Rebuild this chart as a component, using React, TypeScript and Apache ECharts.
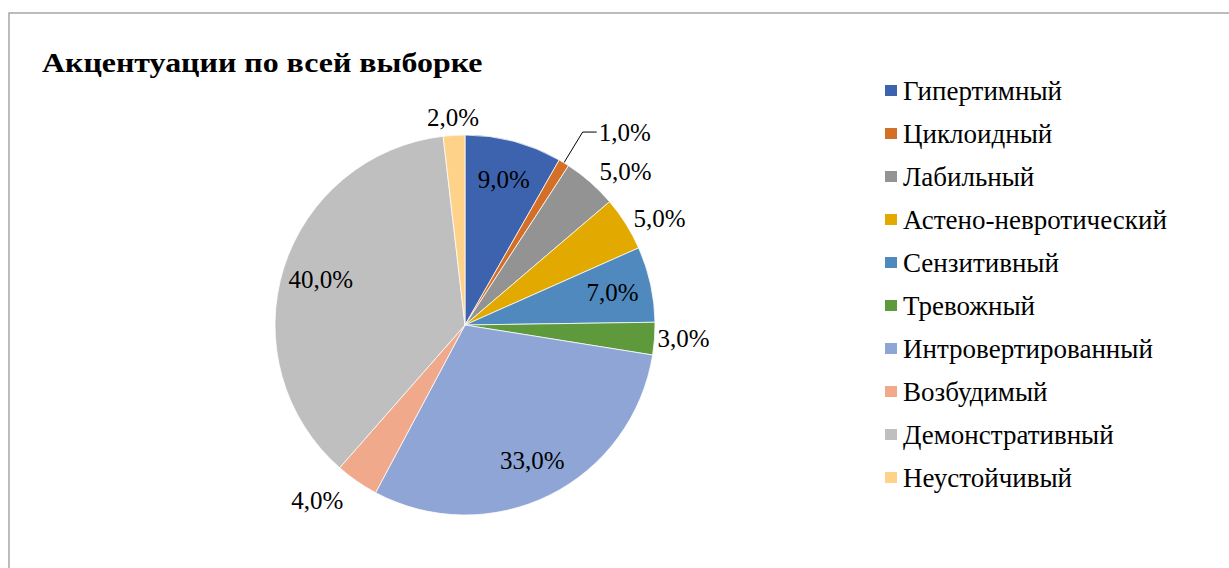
import React, { useEffect, useRef } from "react";
import * as echarts from "echarts";

const categories = [
  "Гипертимный",
  "Циклоидный",
  "Лабильный",
  "Астено-невротический",
  "Сензитивный",
  "Тревожный",
  "Интровертированный",
  "Возбудимый",
  "Демонстративный",
  "Неустойчивый",
];
const values = [9, 1, 5, 5, 7, 3, 33, 4, 40, 2];
const colors = [
  "#3D63AE",
  "#D46F27",
  "#939393",
  "#E2AA00",
  "#4F89BE",
  "#5E9A3C",
  "#8FA5D6",
  "#F0A98B",
  "#BFBFBF",
  "#FFD28A",
];
const titleText = "Акцентуации по всей выборке";

// label placement groups (by index)
const insideIdx = [0, 4, 6, 8];
const nearIdx = [9];
// outside labels: index -> [labelLine length, length2, show line]
const outsideCfg: Record<number, [number, number, boolean]> = {
  1: [36, 14, true],
  2: [14, 0, false],
  3: [9, 0, false],
  5: [3, 0, false],
  7: [24, 0, false],
};

const FONT = "Liberation Serif";
const fmt = (v: number) => v.toFixed(1).replace(".", ",") + "%";

export default function App() {
  const ref = useRef<HTMLDivElement>(null);
  useEffect(() => {
    if (!ref.current) return;
    const chart = echarts.init(ref.current, undefined, { renderer: "svg" });
    const cx = 465;
    const cy = 325;
    const R = 190;
    const labelStyle = {
      fontFamily: FONT,
      fontSize: 25,
      color: "#000",
    };
    const mainData = categories.map((name, i) => {
      const cfg = outsideCfg[i];
      return {
        name,
        value: values[i],
        itemStyle: { color: colors[i] },
        label: cfg
          ? {
              show: true,
              position: "outside",
              distanceToLabelLine: cfg[2] ? 2 : 0,
            }
          : { show: false },
        labelLine: cfg
          ? {
              show: cfg[2],
              length: cfg[0],
              length2: cfg[1],
              lineStyle: { color: "#000", width: 1 },
            }
          : { show: false },
      };
    });
    const ringData = (idxs: number[]) =>
      categories.map((name, i) => ({
        name,
        value: values[i],
        label: { show: idxs.includes(i) },
      }));
    const transparentSeries = (radius: number[], idxs: number[]) => ({
      type: "pie",
      center: [cx, cy],
      radius,
      startAngle: 90,
      clockwise: true,
      silent: true,
      avoidLabelOverlap: false,
      itemStyle: { color: "rgba(0,0,0,0)", borderWidth: 0 },
      label: {
        position: "inside",
        formatter: (p: any) => fmt(p.value),
        ...labelStyle,
      },
      labelLine: { show: false },
      emphasis: { disabled: true },
      data: ringData(idxs),
      z: 3,
    });

    chart.setOption({
      animation: false,
      backgroundColor: "#fff",
      textStyle: { fontFamily: FONT },
      legend: {
        orient: "vertical",
        left: 878,
        top: 72,
        itemWidth: 14,
        itemHeight: 13,
        itemGap: 16,
        icon: "rect",
        data: categories,
        selectedMode: false,
        textStyle: {
          fontFamily: FONT,
          fontSize: 27,
          lineHeight: 24,
          color: "#000",
        },
      },
      graphic: [
        {
          type: "rect",
          shape: { x: 9, y: 13, width: 1260, height: 620 },
          style: { fill: "none", stroke: "#A6A6A6", lineWidth: 1.5 },
          silent: true,
          z: -1,
        },
        {
          type: "text",
          x: 42,
          y: 62,
          scaleX: 1.14,
          silent: true,
          style: {
            text: titleText,
            fontFamily: FONT,
            fontSize: 28,
            fontWeight: "bold",
            fill: "#000",
            verticalAlign: "middle",
            align: "left",
          },
        },
      ],
      series: [
        {
          type: "pie",
          center: [cx, cy],
          radius: [0, R],
          startAngle: 90,
          clockwise: true,
          avoidLabelOverlap: false,
          itemStyle: { borderColor: "#fff", borderWidth: 0.75 },
          label: {
            formatter: (p: any) => fmt(p.value),
            ...labelStyle,
          },
          emphasis: { disabled: true },
          data: mainData,
        },
        transparentSeries([106, R], insideIdx),
        transparentSeries([R, 220], nearIdx),
      ],
    });
    return () => chart.dispose();
  }, []);
  return (
    <div
      ref={ref}
      style={{ position: "absolute", left: 0, top: 0, width: 1229, height: 568 }}
    />
  );
}
